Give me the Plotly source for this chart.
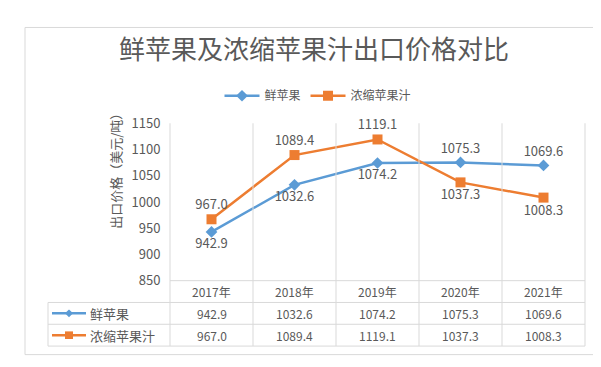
import plotly.graph_objects as go

years = ["2017年", "2018年", "2019年", "2020年", "2021年"]
fresh_apple = [942.9, 1032.6, 1074.2, 1075.3, 1069.6]
apple_juice = [967.0, 1089.4, 1119.1, 1037.3, 1008.3]
series_names = ["鲜苹果", "浓缩苹果汁"]
title_text = "鲜苹果及浓缩苹果汁出口价格对比"
y_title = "出口价格（美元/吨）"
y_ticks = [850, 900, 950, 1000, 1050, 1100, 1150]

W, H = 601, 367
def px(x): return x / W
def py(y): return 1 - y / H

BLUE = "#5B9BD5"
ORANGE = "#ED7D31"
GRID = "#D9D9D9"
TXT = "#595959"
FONT = "Noto Sans CJK SC, Noto Sans, sans-serif"

X0, X1 = 162, 577
Y_TOP, Y_AX = 111, 277
ROWS = [277, 300, 323, 346]
TBL_L = 40

xi = list(range(len(years)))
fig = go.Figure()
fig.add_trace(go.Scatter(
    x=xi, y=fresh_apple, name=series_names[0], mode="lines+markers+text",
    line=dict(color=BLUE, width=2.5), marker=dict(symbol="diamond", size=9, color=BLUE),
    texttemplate="%{y:.1f}",
    textposition=["bottom center", "bottom center", "bottom center", "top center", "top center"],
    textfont=dict(size=13, color=TXT, family=FONT), cliponaxis=False))
fig.add_trace(go.Scatter(
    x=xi, y=apple_juice, name=series_names[1], mode="lines+markers+text",
    line=dict(color=ORANGE, width=2.5), marker=dict(symbol="square", size=10, color=ORANGE),
    texttemplate="%{y:.1f}",
    textposition=["top center", "top center", "top center", "bottom center", "bottom center"],
    textfont=dict(size=13, color=TXT, family=FONT), cliponaxis=False))

shapes = []
shapes.append(dict(type="rect", xref="paper", yref="paper", x0=px(17), x1=px(589), y0=py(355), y1=py(10),
                   line=dict(color=GRID, width=1)))
colw = (X1 - X0) / len(years)
for k in range(len(years) + 1):
    xx = X0 + k * colw
    shapes.append(dict(type="line", xref="paper", yref="paper", x0=px(xx), x1=px(xx),
                       y0=py(ROWS[-1]), y1=py(Y_TOP), line=dict(color=GRID, width=1)))
shapes.append(dict(type="line", xref="paper", yref="paper", x0=px(X0), x1=px(X1),
                   y0=py(ROWS[0]), y1=py(ROWS[0]), line=dict(color=GRID, width=1)))
for r in ROWS[1:]:
    shapes.append(dict(type="line", xref="paper", yref="paper", x0=px(TBL_L), x1=px(X1),
                       y0=py(r), y1=py(r), line=dict(color=GRID, width=1)))
shapes.append(dict(type="line", xref="paper", yref="paper", x0=px(TBL_L), x1=px(TBL_L),
                   y0=py(ROWS[-1]), y1=py(ROWS[1]), line=dict(color=GRID, width=1)))

annotations = []
for i, (nm, col, sym) in enumerate(zip(series_names, [BLUE, ORANGE], ["d", "s"])):
    yc = (ROWS[i + 1] + ROWS[i + 2]) / 2
    shapes.append(dict(type="line", xref="paper", yref="paper", x0=px(44), x1=px(78),
                       y0=py(yc), y1=py(yc), line=dict(color=col, width=2.5)))
    cx = 61
    if sym == "d":
        path = f"M {px(cx)},{py(yc-4)} L {px(cx+4)},{py(yc)} L {px(cx)},{py(yc+4)} L {px(cx-4)},{py(yc)} Z"
    else:
        path = f"M {px(cx-4)},{py(yc-4)} L {px(cx+4)},{py(yc-4)} L {px(cx+4)},{py(yc+4)} L {px(cx-4)},{py(yc+4)} Z"
    shapes.append(dict(type="path", xref="paper", yref="paper", path=path,
                       fillcolor=col, line=dict(color=col, width=0)))
    annotations.append(dict(text=nm, xref="paper", yref="paper", x=px(80), y=py(yc),
                            xanchor="left", yanchor="middle", showarrow=False,
                            font=dict(size=13, color=TXT, family=FONT)))
for j, yr in enumerate(years):
    annotations.append(dict(text=yr, xref="x", yref="paper", x=j, y=py((ROWS[0] + ROWS[1]) / 2),
                            showarrow=False, yanchor="middle", font=dict(size=12, color=TXT, family=FONT)))
    for i, vals in enumerate([fresh_apple, apple_juice]):
        annotations.append(dict(text=f"{vals[j]:.1f}", xref="x", yref="paper", x=j,
                                y=py((ROWS[i + 1] + ROWS[i + 2]) / 2), showarrow=False, yanchor="middle",
                                font=dict(size=12, color=TXT, family=FONT)))
annotations.append(dict(text=y_title, xref="paper", yref="paper", x=px(108), y=py(158),
                        textangle=-90, showarrow=False, xanchor="center", yanchor="middle",
                        font=dict(size=13, color=TXT, family=FONT)))

fig.update_layout(
    width=W, height=H, margin=dict(l=0, r=0, t=0, b=0),
    paper_bgcolor="white", plot_bgcolor="white",
    title=dict(text=title_text, x=px(306), xanchor="center", y=py(42), yanchor="middle",
               font=dict(size=26, color=TXT, family=FONT)),
    xaxis=dict(domain=[px(X0), px(X1)], range=[-0.5, len(years) - 0.5], showticklabels=False,
               showgrid=False, zeroline=False, showline=False, ticks=""),
    yaxis=dict(domain=[py(Y_AX), py(Y_TOP)], range=[850, 1150], tickvals=y_ticks,
               showgrid=False, zeroline=False, showline=False, ticks="outside", ticklen=6,
               tickcolor="rgba(0,0,0,0)", tickfont=dict(size=13, color=TXT, family=FONT)),
    legend=dict(orientation="h", x=px(310), xanchor="center", y=py(82), yanchor="middle",
                font=dict(size=12, color=TXT, family=FONT), itemwidth=35),
    shapes=shapes, annotations=annotations, showlegend=True,
)
fig.write_html("out.html")
